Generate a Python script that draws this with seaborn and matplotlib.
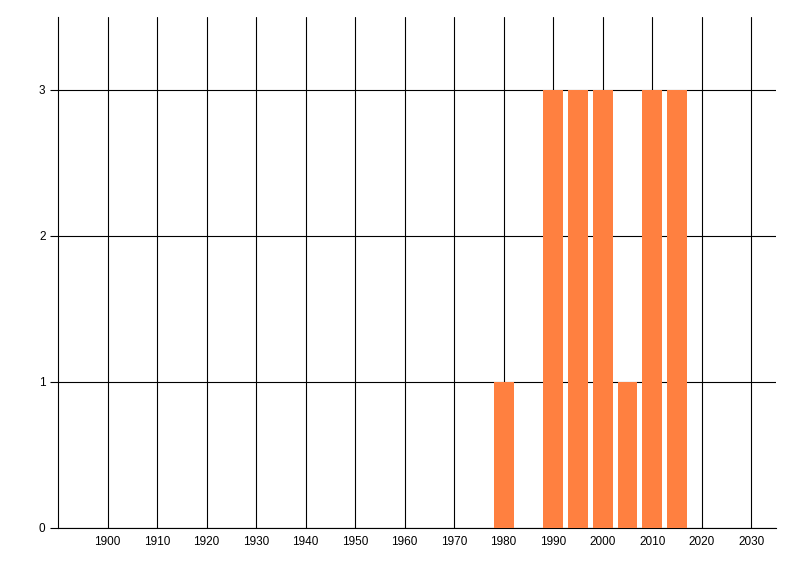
import matplotlib
matplotlib.use("Agg")
import matplotlib.pyplot as plt
import seaborn as sns

# data
years = [1980, 1990, 1995, 2000, 2005, 2010, 2015]
counts = [1, 3, 3, 3, 1, 3, 3]
xticks = list(range(1900, 2031, 10))
yticks = [0, 1, 2, 3]

sns.set_style("white")
plt.rcParams['font.family'] = ['Liberation Sans', 'DejaVu Sans']

fig = plt.figure(figsize=(8, 5.76), dpi=100)
ax = fig.add_axes([58 / 800, 1 - 528 / 576, (776 - 58) / 800, (528 - 17) / 576])

sns.barplot(x=years, y=counts, native_scale=True, width=0.8, color="#FF8040",
            saturation=1, errorbar=None, linewidth=0, ax=ax, zorder=3)

ax.set_xlim(1890, 2035)
ax.set_ylim(0, 3.5)
ax.set_xticks(xticks)
ax.set_xticklabels([str(t) for t in xticks])
ax.set_yticks(yticks)
ax.set_yticklabels([str(t) for t in yticks])

ax.grid(True, color="black", linewidth=0.8, zorder=1)
ax.set_axisbelow(True)
for s in ["top", "right"]:
    ax.spines[s].set_visible(False)
for s in ["left", "bottom"]:
    ax.spines[s].set_color("black")
    ax.spines[s].set_linewidth(0.8)

ax.tick_params(axis="x", length=0, pad=6, labelsize=8.5, colors="black")
ax.tick_params(axis="y", length=6, width=0.8, pad=3, labelsize=8.5, colors="black", left=True)
ax.set_xlabel("")
ax.set_ylabel("")

fig.savefig("out.png", dpi=100)
